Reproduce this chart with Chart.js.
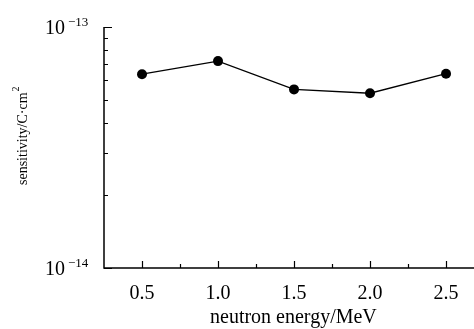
<!DOCTYPE html>
<html>
<head>
<meta charset="utf-8">
<script src="https://cdn.jsdelivr.net/npm/chart.js@4/dist/chart.umd.min.js"></script>
<style>
  html, body { margin: 0; padding: 0; background: #fff; overflow: hidden; }
  canvas { display: block; }
</style>
</head>
<body>
<canvas id="chart" width="474" height="329"></canvas>
<script>
// neutron energy (MeV) and measured sensitivity (C·cm^2)
const energies = [0.5, 1.0, 1.5, 2.0, 2.5];
const sensitivity = [6.37e-14, 7.22e-14, 5.51e-14, 5.31e-14, 6.40e-14];

// tick positions / labels
const xMajorTicks = [0.5, 1.0, 1.5, 2.0, 2.5];
const xMajorLabels = ['0.5', '1.0', '1.5', '2.0', '2.5'];
const xMinorTicks = [0.75, 1.25, 1.75, 2.25];
const yDecades = [1e-14, 1e-13];
const yDecadeExps = ['\u221214', '\u221213'];
const yMinorTicks = [2e-14, 3e-14, 4e-14, 5e-14, 6e-14, 7e-14, 8e-14, 9e-14];

const FONT = '"Liberation Serif", "Times New Roman", serif';

// draws axes, inward ticks, tick labels and titles in the style of the figure
const axesPlugin = {
    id: 'axesPlugin',
    afterDraw(chart) {
        const ctx = chart.ctx;
        const xs = chart.scales.x;
        const ys = chart.scales.y;
        const area = chart.chartArea;
        ctx.save();
        ctx.strokeStyle = '#000';
        ctx.fillStyle = '#000';
        ctx.lineWidth = 1.5;

        // axis lines
        ctx.beginPath();
        ctx.moveTo(area.left, area.top);
        ctx.lineTo(area.left, area.bottom);
        ctx.lineTo(area.right, area.bottom);
        ctx.stroke();

        // x ticks (pointing up)
        ctx.lineWidth = 1.2;
        ctx.beginPath();
        xMajorTicks.forEach(v => {
            const px = Math.round(xs.getPixelForValue(v)) + 0.5;
            ctx.moveTo(px, area.bottom);
            ctx.lineTo(px, area.bottom - 7);
        });
        xMinorTicks.forEach(v => {
            const px = Math.round(xs.getPixelForValue(v)) + 0.5;
            ctx.moveTo(px, area.bottom);
            ctx.lineTo(px, area.bottom - 4);
        });
        // y ticks (pointing right)
        yDecades.forEach(v => {
            const py = Math.round(ys.getPixelForValue(v)) + 0.5;
            ctx.moveTo(area.left, py);
            ctx.lineTo(area.left + 8, py);
        });
        yMinorTicks.forEach(v => {
            const py = Math.round(ys.getPixelForValue(v)) + 0.5;
            ctx.moveTo(area.left, py);
            ctx.lineTo(area.left + 4, py);
        });
        ctx.stroke();

        // x tick labels
        ctx.font = '20px ' + FONT;
        ctx.textAlign = 'center';
        ctx.textBaseline = 'alphabetic';
        xMajorTicks.forEach((v, i) => {
            ctx.fillText(xMajorLabels[i], xs.getPixelForValue(v), 299);
        });

        // y decade labels: 10 with superscript exponent
        yDecades.forEach((v, i) => {
            const py = ys.getPixelForValue(v);
            ctx.textAlign = 'left';
            ctx.font = '20px ' + FONT;
            ctx.fillText('10', 45, py + 7);
            ctx.font = '13px ' + FONT;
            ctx.fillText(yDecadeExps[i], 68, py - 1);
        });

        // x title
        ctx.font = '20px ' + FONT;
        ctx.textAlign = 'left';
        ctx.fillText('neutron energy/MeV', 210, 323);

        // y title (rotated, with superscript 2), reading bottom to top
        ctx.translate(27, 185);
        ctx.rotate(-Math.PI / 2);
        ctx.font = '14px ' + FONT;
        const main = 'sensitivity/C\u00b7cm';
        const w1 = ctx.measureText(main).width;
        ctx.fillText(main, 0, 0);
        ctx.font = '10px ' + FONT;
        ctx.fillText('2', w1 + 1, -8);
        ctx.restore();
    }
};

new Chart(document.getElementById('chart'), {
    type: 'line',
    data: {
        labels: energies,
        datasets: [{
            data: energies.map((e, i) => ({ x: e, y: sensitivity[i] })),
            borderColor: '#000',
            backgroundColor: '#000',
            borderWidth: 1.3,
            pointRadius: 5,
            pointBackgroundColor: '#000',
            pointBorderWidth: 0,
            tension: 0,
            clip: false
        }]
    },
    options: {
        responsive: false,
        animation: false,
        layout: { autoPadding: false, padding: { left: 104, top: 27, right: 0, bottom: 61 } },
        plugins: {
            legend: { display: false },
            tooltip: { enabled: false }
        },
        scales: {
            x: { type: 'linear', min: 0.25, max: 2.684, display: false },
            y: { type: 'logarithmic', min: 1e-14, max: 1e-13, display: false }
        }
    },
    plugins: [axesPlugin]
});
</script>
</body>
</html>
